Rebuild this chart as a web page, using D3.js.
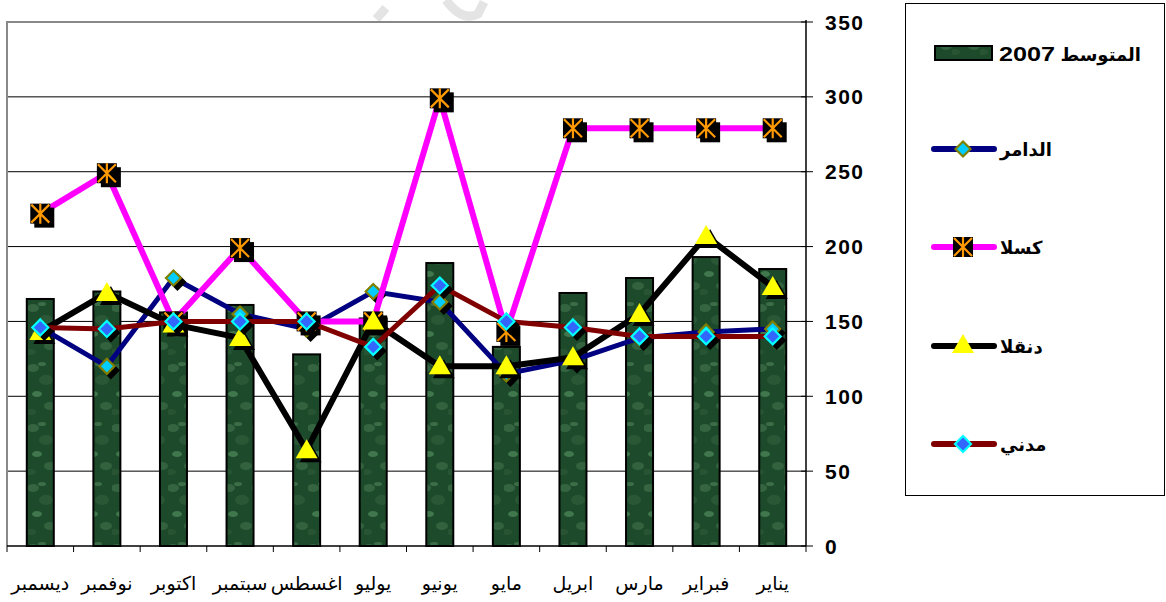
<!DOCTYPE html>
<html>
<head>
<meta charset="utf-8">
<script src="https://cdnjs.cloudflare.com/ajax/libs/d3/7.8.5/d3.min.js"></script>
<style>
  body { margin: 0; background: #fff; }
  text { font-family: Arial, "Liberation Sans", "DejaVu Sans", sans-serif; }
</style>
</head>
<body>
<svg id="chart" width="1166" height="602"></svg>
<script>
// months, Jan .. Dec (drawn right to left)
var months = ['يناير', 'فبراير', 'مارس', 'ابريل', 'مايو', 'يونيو', 'يوليو', 'اغسطس', 'سبتمبر', 'اكتوبر', 'نوفمبر', 'ديسمبر'];
var average2007 = [185, 193, 179, 169, 133, 189, 152, 128, 161, 156, 170, 165];
var damer   = [145, 143, 139, 124, 115, 163, 170, 145, 155, 179, 120, 146];
var kassala = [279, 279, 279, 279, 143, 299, 150, 150, 199, 150, 249, 222];
var dongola = [173, 207, 155, 126, 120, 120, 150, 64, 139, 148, 169, 143];
var madani  = [140, 140, 140, 146, 150, 174, 133, 150, 150, 150, 145, 146];
var yTicks  = [0, 50, 100, 150, 200, 250, 300, 350];

var barLabel = 'المتوسط 2007';
var series = [
	{name: 'الدامر', values: damer,   color: '#000080', width: 5, marker: 'diamondOlive'},
	{name: 'كسلا',   values: kassala, color: '#ff00ff', width: 6, marker: 'asterisk'},
	{name: 'دنقلا',  values: dongola, color: '#000000', width: 6, marker: 'triangle'},
	{name: 'مدني',   values: madani,  color: '#800000', width: 5, marker: 'diamondBlue'}
];

var plot = {left: 7, right: 806, top: 22, bottom: 546};

var svg = d3.select('#chart');

var x = d3.scaleBand().domain(months).range([plot.right, plot.left]),
	y = d3.scaleLinear().domain([0, 350]).range([plot.bottom, plot.top]);

// faint watermark fragments
svg.append('path')
	.attr('d', 'M376,19 L386,8 M446,0 Q462,22 478,14 L484,2')
	.attr('fill', 'none').attr('stroke', '#e4e4e4').attr('stroke-width', 9);

// bar texture
var defs = svg.append('defs');
var pat = defs.append('pattern')
	.attr('id', 'marble')
	.attr('patternUnits', 'userSpaceOnUse')
	.attr('width', 28).attr('height', 60);
pat.append('rect').attr('width', 28).attr('height', 60).attr('fill', '#1d4a2a');
[[5, 8, 4, '#3d7049'], [18, 20, 5, '#2f5e3b'], [9, 34, 3, '#4f8a5c'], [22, 46, 4, '#3b6d46'],
 [3, 52, 3, '#2c5936'], [14, 4, 2, '#477c53']].forEach(function (c) {
	pat.append('ellipse').attr('cx', c[0]).attr('cy', c[1]).attr('rx', c[2] + 2).attr('ry', c[2])
		.attr('fill', c[3]).attr('opacity', 0.7);
});

// gridlines
svg.append('g').selectAll('line')
	.data(yTicks.filter(function (d) { return d > 0 && d < 350; }))
	.enter().append('line')
	.attr('x1', plot.left).attr('x2', plot.right)
	.attr('y1', function (d) { return y(d); }).attr('y2', function (d) { return y(d); })
	.attr('stroke', '#000').attr('stroke-width', 1);

// plot border (top and left, gray)
svg.append('path')
	.attr('d', 'M' + plot.left + ',' + plot.bottom + 'V' + plot.top + 'H' + plot.right)
	.attr('fill', 'none').attr('stroke', '#888').attr('stroke-width', 2);

// bars
var barW = 27;
svg.append('g').selectAll('rect')
	.data(average2007)
	.enter().append('rect')
	.attr('x', function (d, i) { return x(months[i]) + x.bandwidth() / 2 - barW / 2; })
	.attr('y', function (d) { return y(d); })
	.attr('width', barW)
	.attr('height', function (d) { return plot.bottom - y(d); })
	.attr('fill', 'url(#marble)')
	.attr('stroke', '#000').attr('stroke-width', 2);

// x axis
var xAxis = svg.append('g');
xAxis.append('line')
	.attr('x1', plot.left).attr('x2', plot.right)
	.attr('y1', plot.bottom).attr('y2', plot.bottom)
	.attr('stroke', '#000').attr('stroke-width', 1.5);
xAxis.selectAll('.tick')
	.data(months.concat(['edge']))
	.enter().append('line')
	.attr('x1', function (d, i) { return i < 12 ? x(d) + x.bandwidth() : plot.left; })
	.attr('x2', function (d, i) { return i < 12 ? x(d) + x.bandwidth() : plot.left; })
	.attr('y1', plot.bottom).attr('y2', plot.bottom + 6)
	.attr('stroke', '#000');
xAxis.selectAll('text')
	.data(months)
	.enter().append('text')
	.attr('x', function (d) { return x(d) + x.bandwidth() / 2; })
	.attr('y', 590)
	.attr('text-anchor', 'middle')
	.attr('font-size', 19)
	.text(function (d) { return d; });

// y axis on right
var yAxis = svg.append('g');
yAxis.append('line')
	.attr('x1', plot.right).attr('x2', plot.right)
	.attr('y1', plot.top - 2).attr('y2', plot.bottom)
	.attr('stroke', '#000').attr('stroke-width', 1.5);
yAxis.selectAll('.tk')
	.data(yTicks).enter().append('line')
	.attr('x1', plot.right - 5).attr('x2', plot.right + 7)
	.attr('y1', function (d) { return y(d); }).attr('y2', function (d) { return y(d); })
	.attr('stroke', '#000');
yAxis.selectAll('text')
	.data(yTicks).enter().append('text')
	.attr('x', 825)
	.attr('y', function (d) { return y(d) + 7.5; })
	.attr('font-size', 21).attr('font-weight', 'bold')
	.attr('letter-spacing', 1.5)
	.text(function (d) { return d; });

// markers
function drawMarker(g, type, cx, cy, shadow) {
	var off = shadow ? 4 : 0;
	cx += off; cy += off;
	if (type === 'diamondOlive' || type === 'diamondBlue') {
		var r = type === 'diamondBlue' ? 8 : 7.5;
		g.append('path')
			.attr('d', 'M' + cx + ',' + (cy - r) + 'L' + (cx + r) + ',' + cy + 'L' + cx + ',' + (cy + r) + 'L' + (cx - r) + ',' + cy + 'Z')
			.attr('fill', shadow ? '#000' : (type === 'diamondBlue' ? '#3366ff' : '#00ccff'))
			.attr('stroke', shadow ? '#000' : (type === 'diamondBlue' ? '#00ffff' : '#808000'))
			.attr('stroke-width', 2.2);
	} else if (type === 'triangle') {
		g.append('path')
			.attr('d', 'M' + cx + ',' + (cy - 11) + 'L' + (cx + 11) + ',' + (cy + 8) + 'L' + (cx - 11) + ',' + (cy + 8) + 'Z')
			.attr('fill', shadow ? '#000' : '#ffff00');
	} else if (type === 'asterisk') {
		g.append('rect')
			.attr('x', cx - 10).attr('y', cy - 10).attr('width', 20).attr('height', 20)
			.attr('fill', '#000');
		if (!shadow) {
			var a = 'M' + (cx - 9) + ',' + (cy - 9) + 'L' + (cx + 9) + ',' + (cy + 9) +
				'M' + (cx + 9) + ',' + (cy - 9) + 'L' + (cx - 9) + ',' + (cy + 9) +
				'M' + cx + ',' + (cy - 10) + 'L' + cx + ',' + (cy + 10);
			g.append('path').attr('d', a).attr('stroke', '#ff9900').attr('stroke-width', 2.2).attr('fill', 'none');
		}
	}
}

var line = d3.line()
	.x(function (d, i) { return x(months[i]) + x.bandwidth() / 2; })
	.y(function (d) { return y(d); });

series.forEach(function (s) {
	var g = svg.append('g');
	g.append('path')
		.attr('d', line(s.values))
		.attr('fill', 'none')
		.attr('stroke', s.color)
		.attr('stroke-width', s.width)
		.attr('stroke-linejoin', 'miter');
	s.values.forEach(function (v, i) {
		var cx = x(months[i]) + x.bandwidth() / 2, cy = y(v);
		drawMarker(g, s.marker, cx, cy, true);
		drawMarker(g, s.marker, cx, cy, false);
	});
});

// legend
var legend = svg.append('g');
legend.append('rect')
	.attr('x', 905.5).attr('y', 3.5).attr('width', 259).attr('height', 492)
	.attr('fill', '#fff').attr('stroke', '#000').attr('stroke-width', 1);

legend.append('rect')
	.attr('x', 935).attr('y', 46).attr('width', 57).attr('height', 14)
	.attr('fill', 'url(#marble)').attr('stroke', '#000').attr('stroke-width', 2);
// label split: Arabic word on the right, year on the left (as rendered RTL)
var labelParts = barLabel.split(' ');
legend.append('text')
	.attr('x', 1141).attr('y', 61)
	.attr('text-anchor', 'end')
	.attr('font-size', 18).attr('font-weight', 'bold')
	.text(labelParts[0]);
legend.append('text')
	.attr('transform', 'translate(999,61) scale(1.2,1)')
	.attr('text-anchor', 'start')
	.attr('font-size', 21).attr('font-weight', 'bold')
	.text(labelParts[1]);

var legendY = [149, 247, 346, 444];
series.forEach(function (s, i) {
	var ly = legendY[i];
	legend.append('line')
		.attr('x1', 934).attr('x2', 994)
		.attr('y1', ly).attr('y2', ly)
		.attr('stroke', s.color).attr('stroke-width', 6).attr('stroke-linecap', 'round');
	drawMarker(legend, s.marker, 963, s.marker === 'triangle' ? ly - 1 : ly, false);
	legend.append('text')
		.attr('x', 1000).attr('y', ly + 7)
		.attr('text-anchor', 'start')
		.attr('font-size', 18).attr('font-weight', 'bold')
		.text(s.name);
});
</script>
</body>
</html>
